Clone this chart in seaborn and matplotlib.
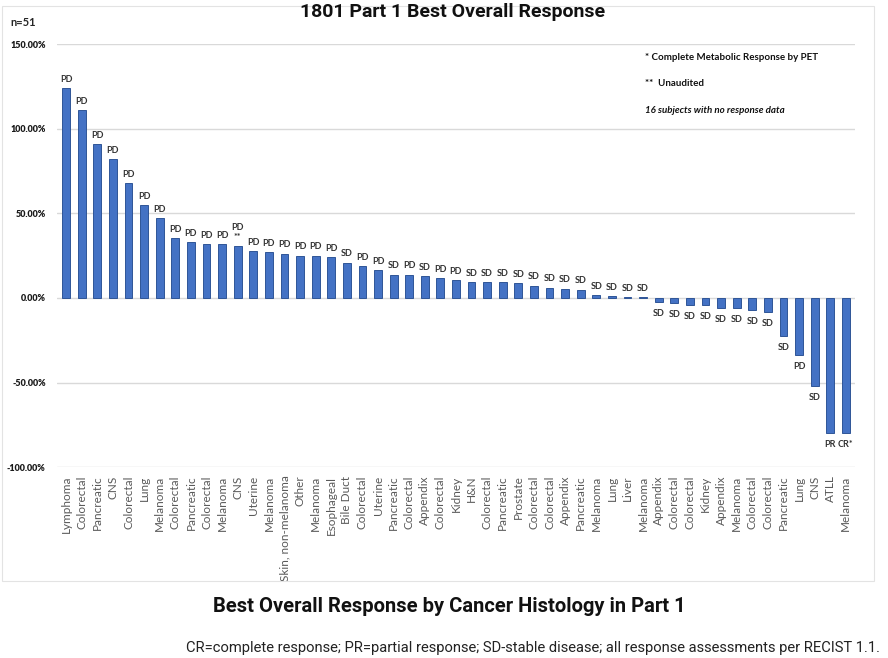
import matplotlib
matplotlib.use("Agg")
import matplotlib.pyplot as plt
import matplotlib.patches as mpatches
import seaborn as sns
import numpy as np
import pandas as pd


histology = ["Lymphoma", "Colorectal", "Pancreatic", "CNS", "Colorectal", "Lung", "Melanoma",
             "Colorectal", "Pancreatic", "Colorectal", "Melanoma", "CNS", "Uterine", "Melanoma",
             "Skin, non-melanoma", "Other", "Melanoma", "Esophageal", "Bile Duct", "Colorectal",
             "Uterine", "Pancreatic", "Colorectal", "Appendix", "Colorectal", "Kidney", "H&N",
             "Colorectal", "Pancreatic", "Prostate", "Colorectal", "Colorectal", "Appendix",
             "Pancreatic", "Melanoma", "Lung", "Liver", "Melanoma", "Appendix", "Colorectal",
             "Colorectal", "Kidney", "Appendix", "Melanoma", "Colorectal", "Colorectal",
             "Pancreatic", "Lung", "CNS", "ATLL", "Melanoma"]

change_pct = [124, 111, 91, 82, 68, 55, 47, 35.5, 33, 32, 32, 30.8, 27.6, 27.2, 26.2, 25, 25,
              23.9, 20.9, 18.7, 16.4, 13.8, 13.8, 13, 11.8, 10.7, 9.4, 9.2, 9.2, 8.9, 7.3, 6.1,
              5.5, 4.9, 1.6, 0.9, 0.4, 0.3, -2.2, -3.2, -4, -4, -5.7, -6.1, -7.1, -8.1, -22.3,
              -34, -52, -79.6, -79.6]

response = ["PD"] * 18 + ["SD", "PD", "PD", "SD", "PD", "SD", "PD", "PD"] + ["SD"] * 20 + \
           ["SD", "PD", "SD", "PR", "CR*"]
response[11] = "PD\n**"

y_ticks = [-100, -50, 0, 50, 100, 150]

df = pd.DataFrame({"idx": [str(i) for i in range(len(histology))],
                   "histology": histology, "change": change_pct, "resp": response})

sns.set_style("white")
plt.rcParams["font.family"] = ["Lato", "DejaVu Sans"]

fig = plt.figure(figsize=(8.88, 6.58), dpi=100)
ax = fig.add_axes([0.064, 0.290, 0.899, 0.643])

sns.barplot(data=df, x="idx", y="change", color="#4472C4", width=0.5,
            edgecolor="#2F5597", linewidth=0.7, saturation=1, ax=ax)

ax.set_ylim(-100, 150)
ax.set_xlim(-0.6, len(histology) - 0.4)
ax.set_yticks(y_ticks)
ax.set_yticklabels([f"{v:.2f}%" for v in y_ticks], fontsize=6.5, fontweight="heavy",
                   color="#1a1a1a")
ax.set_xticks(range(len(histology)))
ax.set_xticklabels(histology, rotation=90, fontsize=8.5, color="#595959")
ax.tick_params(axis="x", length=0, pad=6)
ax.tick_params(axis="y", length=0, pad=8)
ax.set_xlabel("")
ax.set_ylabel("")
for s in ax.spines.values():
    s.set_visible(False)
for v in y_ticks:
    ax.axhline(v, color="#D9D9D9", lw=1, zorder=0)

for i, (v, lab) in enumerate(zip(change_pct, response)):
    if v >= 0:
        ax.annotate(lab, (i, v), xytext=(0, 3), textcoords="offset points", ha="center",
                    va="bottom", fontsize=6.5, fontweight="bold", color="#333333",
                    linespacing=1.1)
    else:
        ax.annotate(lab, (i, v), xytext=(0, -5), textcoords="offset points", ha="center",
                    va="top", fontsize=6.5, fontweight="bold", color="#333333")

ax.text(0.737, 0.969, "* Complete Metabolic Response by PET", transform=ax.transAxes,
        fontsize=7, fontweight="bold", color="#111111", va="center")
ax.text(0.737, 0.908, "**  Unaudited", transform=ax.transAxes,
        fontsize=7, fontweight="bold", color="#111111", va="center")
ax.text(0.737, 0.844, "16 subjects with no response data", transform=ax.transAxes,
        fontsize=7, fontweight="bold", style="italic", color="#111111", va="center")

fig.patches.append(mpatches.Rectangle((2 / 888, 1 - 581 / 658), 872 / 888, 575 / 658,
                                      transform=fig.transFigure, fill=False,
                                      edgecolor="#E3E3E3", lw=0.8))

fig.text(10 / 888, 1 - 22 / 658, "n=51", fontsize=8, fontweight="bold", color="#262626",
         va="center")
fig.text(0.51, 1 - 12 / 658, "1801 Part 1 Best Overall Response", ha="center", va="center",
         fontsize=14, fontweight="bold", family=["Roboto", "DejaVu Sans"], color="#111111")
fig.text(0.506, 1 - 606 / 658, "Best Overall Response by Cancer Histology in Part 1",
         ha="center", va="center", fontsize=14.5, fontweight="bold",
         family=["Roboto", "DejaVu Sans"], color="#111111")
fig.text(880 / 888, 1 - 648 / 658,
         "CR=complete response; PR=partial response; SD-stable disease; "
         "all response assessments per RECIST 1.1.",
         ha="right", va="center", fontsize=10.6, family=["Roboto", "DejaVu Sans"],
         color="#222222")

fig.savefig("out.png", dpi=100)
